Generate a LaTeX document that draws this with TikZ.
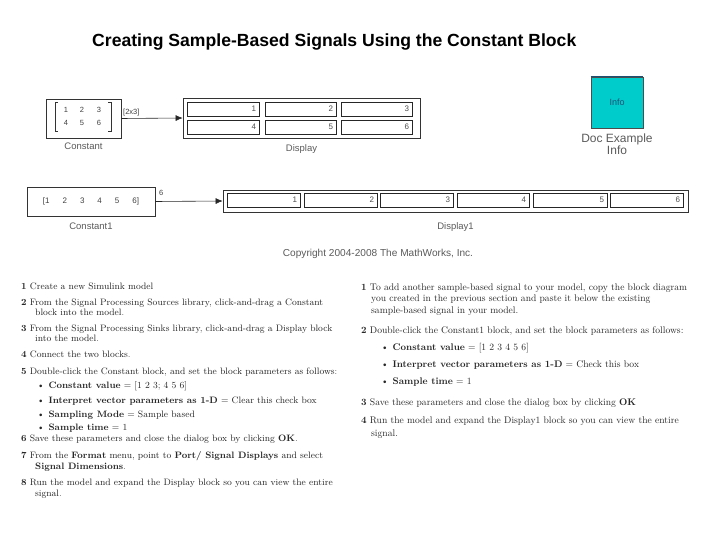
\documentclass[tikz,border=0pt]{standalone}
\usepackage{fontspec}
\setsansfont{Liberation Sans}
\usetikzlibrary{arrows.meta,positioning}
\definecolor{infocyan}{HTML}{00CCCC}
\definecolor{infoblue}{HTML}{1D4F73}
\definecolor{slgray}{HTML}{5A5A5A}

\begin{document}
\begin{tikzpicture}[x=1pt,y=-1pt,
  blk/.style={draw=black!80,line width=.7pt,inner sep=0pt},
  cell/.style={draw=black!85,line width=.6pt,minimum height=14pt,inner xsep=3pt,inner ysep=0pt,font=\sffamily\fontsize{8}{9}\selectfont,text=black!70,align=right},
  blklbl/.style={font=\sffamily\fontsize{9.5}{10.5}\selectfont,text=slgray},
  num/.style={font=\sffamily\fontsize{7.5}{8}\selectfont,text=black!75,inner sep=0pt},
  lft/.style={anchor=base west,inner sep=0pt,font=\fontsize{9.3}{10}\selectfont,text=black!85},
  rgt/.style={anchor=base west,inner sep=0pt,font=\fontsize{9.6}{10}\selectfont,text=black!85},
  sig/.style={-{Latex[length=7pt,width=6pt]},black!85,line width=.6pt}]
\useasboundingbox (0,0) rectangle (720,540);
% title
\node[anchor=base west,inner sep=0pt,font=\sffamily\bfseries\fontsize{17.6}{20}\selectfont] (title) at (92,47) {Creating Sample-Based Signals Using the Constant Block};

% first model: Constant -> Display
\node[blk,minimum width=75pt,minimum height=39pt] (const) at (83.5,118.5) {};
\draw[black!80,line width=.8pt] (58,102) -- (55,102) -- (55,131) -- (58,131);
\draw[black!80,line width=.8pt] (108,102) -- (111,102) -- (111,131) -- (108,131);
\node[num] (m1) at (66,110) {1};
\node[num] (m2) at (82,110) {2};
\node[num] (m3) at (99,110) {3};
\node[num] (m4) at (66,123) {4};
\node[num] (m5) at (82,123) {5};
\node[num] (m6) at (99,123) {6};
\node[blklbl,below=1pt of const] (constlbl) {Constant};
\node[num,anchor=west] (dim) at (123,113) {[2x3]};

\node[blk,minimum width=237pt,minimum height=40pt] (disp) at (301.5,118) {};
\node[cell,text width=66pt] (d1) at (223,109) {1};
\node[cell,text width=65pt] (d2) at (300.5,109) {2};
\node[cell,text width=65pt] (d3) at (376.5,109) {3};
\node[cell,text width=66pt] (d4) at (223,127) {4};
\node[cell,text width=65pt] (d5) at (300.5,127) {5};
\node[cell,text width=65pt] (d6) at (376.5,127) {6};
\node[blklbl,below=3pt of disp] (displbl) {Display};
\draw[sig] (const.east) -- (disp.west);

% info block
\node[blk,fill=infocyan,draw=black!70,minimum width=52pt,minimum height=51pt,font=\sffamily\fontsize{9}{10}\selectfont,text=infoblue] (info) at (617,102.5) {Info};
\draw[infoblue,line width=1.4pt] (info.north west) -- (info.north east);
\node[blklbl,below=2pt of info,align=center,font=\sffamily\fontsize{12}{12}\selectfont] (infolbl) {Doc Example\\Info};

% second model: Constant1 -> Display1
\node[blk,minimum width=128pt,minimum height=29pt,font=\sffamily\fontsize{8}{9}\selectfont,text=black!75] (const1) at (91,201.5) {[1\hspace{13pt}2\hspace{13pt}3\hspace{13pt}4\hspace{13pt}5\hspace{13pt}6]};
\node[blklbl,below=3pt of const1] (const1lbl) {Constant1};
\node[num,anchor=west] (width) at (159,193) {6};

\node[blk,minimum width=465pt,minimum height=22pt] (disp1) at (455.5,201) {};
\node[cell,text width=67pt] (e1) at (263.5,200) {1};
\node[cell,text width=67pt] (e2) at (340.5,200) {2};
\node[cell,text width=67pt] (e3) at (416.5,200) {3};
\node[cell,text width=66pt] (e4) at (493,200) {4};
\node[cell,text width=68pt] (e5) at (570,200) {5};
\node[cell,text width=67pt] (e6) at (646.5,200) {6};
\node[blklbl,below=7pt of disp1] (disp1lbl) {Display1};
\draw[sig] (const1.east) -- (disp1.west);

\node[font=\sffamily\fontsize{10.1}{11}\selectfont,text=slgray] (copy) at (378,254) {Copyright 2004-2008 The MathWorks, Inc.};

% left column of steps
\node[lft] (l1) at (21,289) {\textbf{1} Create a new Simulink model};
\node[lft] (l2) at (21,305) {\textbf{2} From the Signal Processing Sources library, click-and-drag a Constant};
\node[lft] (l2b) at (35,315) {block into the model.};
\node[lft] (l3) at (21,331) {\textbf{3} From the Signal Processing Sinks library, click-and-drag a Display block};
\node[lft] (l3b) at (35,341) {into the model.};
\node[lft] (l4) at (21,357) {\textbf{4} Connect the two blocks.};
\node[lft] (l5) at (21,374) {\textbf{5} Double-click the Constant block, and set the block parameters as follows:};
\node[lft] (l5a) at (37,388) {\textbullet\hspace{4pt}\textbf{Constant value} = [1 2 3; 4 5 6]};
\node[lft] (l5b) at (37,403) {\textbullet\hspace{4pt}\textbf{Interpret vector parameters as 1-D} = Clear this check box};
\node[lft] (l5c) at (37,417) {\textbullet\hspace{4pt}\textbf{Sampling Mode} = Sample based};
\node[lft] (l5d) at (37,430) {\textbullet\hspace{4pt}\textbf{Sample time} = 1};
\node[lft] (l6) at (21,441) {\textbf{6} Save these parameters and close the dialog box by clicking \textbf{OK}.};
\node[lft] (l7) at (21,458) {\textbf{7} From the \textbf{Format} menu, point to \textbf{Port/ Signal Displays} and select};
\node[lft] (l7b) at (35,469) {\textbf{Signal Dimensions}.};
\node[lft] (l8) at (21,485) {\textbf{8} Run the model and expand the Display block so you can view the entire};
\node[lft] (l8b) at (35,496) {signal.};

% right column of steps
\node[rgt] (r1) at (361,290) {\textbf{1} To add another sample-based signal to your model, copy the block diagram};
\node[rgt] (r1b) at (371,301) {you created in the previous section and paste it below the existing};
\node[rgt] (r1c) at (371,313) {sample-based signal in your model.};
\node[rgt] (r2) at (361,333) {\textbf{2} Double-click the Constant1 block, and set the block parameters as follows:};
\node[rgt] (r2a) at (381,350) {\textbullet\hspace{4pt}\textbf{Constant value} = [1 2 3 4 5 6]};
\node[rgt] (r2b) at (381,367) {\textbullet\hspace{4pt}\textbf{Interpret vector parameters as 1-D} = Check this box};
\node[rgt] (r2c) at (381,384) {\textbullet\hspace{4pt}\textbf{Sample time} = 1};
\node[rgt] (r3) at (361,405) {\textbf{3} Save these parameters and close the dialog box by clicking \textbf{OK}};
\node[rgt] (r4) at (361,423) {\textbf{4} Run the model and expand the Display1 block so you can view the entire};
\node[rgt] (r4b) at (371,436) {signal.};
\end{tikzpicture}
\end{document}
